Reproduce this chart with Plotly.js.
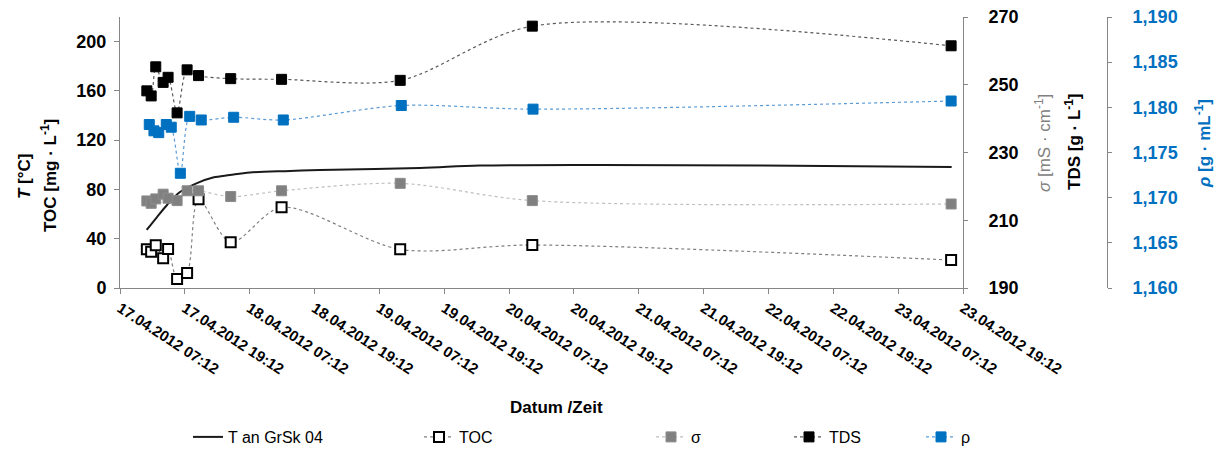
<!DOCTYPE html>
<html>
<head>
<meta charset="utf-8">
<script src="https://cdn.plot.ly/plotly-3.0.1.min.js"></script>
<style>
  html, body { margin: 0; padding: 0; background: #ffffff; }
  #chart { width: 1217px; height: 451px; }
</style>
</head>
<body>
<div id="chart"></div>
<script>
// Sampling times of the water samples (TOC, conductivity, TDS)
const sampleTimes = [
  '2012-04-17 12:10', '2012-04-17 12:58', '2012-04-17 13:49', '2012-04-17 15:11',
  '2012-04-17 16:06', '2012-04-17 17:46', '2012-04-17 19:37', '2012-04-17 21:44',
  '2012-04-18 03:41', '2012-04-18 13:06', '2012-04-19 11:03', '2012-04-20 11:30',
  '2012-04-23 17:00'
];
// Density measurements were taken a little after each sample
const densityTimes = [
  '2012-04-17 12:37', '2012-04-17 13:29', '2012-04-17 14:22', '2012-04-17 15:46',
  '2012-04-17 16:41', '2012-04-17 18:22', '2012-04-17 20:06', '2012-04-17 22:14',
  '2012-04-18 04:14', '2012-04-18 13:25', '2012-04-19 11:15', '2012-04-20 11:38',
  '2012-04-23 17:00'
];
// Temperature record at GrSk 04
const tempTimes = [
  '2012-04-17 12:08', '2012-04-17 14:03', '2012-04-17 15:54', '2012-04-17 18:18',
  '2012-04-17 21:27', '2012-04-18 00:25', '2012-04-18 03:33', '2012-04-18 07:16',
  '2012-04-18 14:40', '2012-04-18 20:12', '2012-04-19 14:42', '2012-04-20 01:48',
  '2012-04-21 00:00', '2012-04-22 05:36', '2012-04-23 17:06'
];
const temperature = [47.1, 57.6, 67.4, 77.9, 85.2, 89.7, 91.7, 93.8, 95.0, 95.8, 97.4, 99.4, 99.9, 99.4, 98.2];

const toc   = [31.4, 29.5, 34.7, 24.1, 31.7, 7.3, 12.2, 72.0, 37.1, 65.5, 31.4, 34.9, 22.7];           // mg/L
const sigma = [215.7, 215.0, 216.3, 217.7, 216.5, 215.8, 218.7, 218.7, 217.0, 218.7, 220.9, 215.8, 214.8]; // mS/cm
const tds   = [248.2, 246.7, 255.3, 250.7, 252.2, 241.7, 254.4, 252.7, 251.8, 251.6, 251.3, 267.3, 261.5]; // g/L
const rho   = [1.1781, 1.1774, 1.1772, 1.1781, 1.1778, 1.1727, 1.1790, 1.1786, 1.1789, 1.1786, 1.1802, 1.1798, 1.1807]; // g/mL

const xTickStart = '2012-04-17 07:12';
const xEnd = '2012-04-23 19:12';

const BLUE = '#0070C0';
const AXIS = '#868686';
const FONT = 'Liberation Sans, Arial, sans-serif';

const sq = (fill, edge, w) => ({ symbol: 'square', size: 10, color: fill, line: { color: edge, width: w } });
const dotted = (c) => ({ color: c, width: 1.2, dash: 'dot', shape: 'spline', smoothing: 0.85 });

const traces = [
  {
    name: 'T an GrSk 04', x: tempTimes, y: temperature, yaxis: 'y', legend: 'legend',
    mode: 'lines', line: { color: '#1a1a1a', width: 2, shape: 'spline' }
  },
  {
    name: 'TOC', x: sampleTimes, y: toc, yaxis: 'y', legend: 'legend2',
    mode: 'lines+markers', line: dotted('#7f7f7f'),
    marker: sq('#ffffff', '#000000', 2)
  },
  {
    name: 'σ', x: sampleTimes, y: sigma, yaxis: 'y2', legend: 'legend3',
    mode: 'lines+markers', line: dotted('#bfbfbf'),
    marker: sq('#808080', '#8c8c8c', 1)
  },
  {
    name: 'TDS', x: sampleTimes, y: tds, yaxis: 'y2', legend: 'legend4',
    mode: 'lines+markers', line: dotted('#595959'),
    marker: sq('#000000', '#000000', 1)
  },
  {
    name: 'ρ', x: densityTimes, y: rho, yaxis: 'y3', legend: 'legend5',
    mode: 'lines+markers', line: dotted('#5b9bd5'),
    marker: sq(BLUE, BLUE, 1)
  }
];

// Plot area spans 120..963 px horizontally, the density axis sits at the paper's right edge
const plotLeft = 120, plotRight = 963, paperRight = 1107;
const paperW = paperRight - plotLeft;
const plotTop = 17, plotBottom = 288, plotH = plotBottom - plotTop;
const px = v => (v - plotLeft) / paperW;
const py = v => (plotBottom - v) / plotH;

const legendBox = (x) => ({
  orientation: 'h', x: px(x), y: py(437), xanchor: 'left', yanchor: 'middle',
  bgcolor: 'rgba(0,0,0,0)', font: { family: FONT, size: 16, color: '#000000' },
  itemwidth: 30, tracegroupgap: 0
});

const boldTick = (c) => ({ family: FONT, size: 18, color: c, weight: 'bold' });

const layout = {
  width: 1217, height: 451,
  margin: { l: plotLeft, r: 1217 - paperRight, t: plotTop, b: 451 - plotBottom, pad: 0, autoexpand: false },
  paper_bgcolor: '#ffffff', plot_bgcolor: '#ffffff',
  font: { family: FONT, color: '#000000' },
  separators: ',.',
  showlegend: true,
  xaxis: {
    type: 'date', domain: [0, (plotRight - plotLeft) / paperW],
    range: [xTickStart, xEnd], tick0: xTickStart, dtick: 12 * 3600 * 1000,
    tickformat: '%d.%m.%Y %H:%M', tickangle: 33,
    ticks: 'outside', ticklen: 5, tickcolor: AXIS, tickwidth: 1,
    showline: true, linecolor: AXIS, linewidth: 1, showgrid: false, zeroline: false,
    tickfont: { family: FONT, size: 15, color: '#000000', weight: 'bold' }
  },
  yaxis: {
    range: [0, 220], tick0: 0, dtick: 40,
    ticks: 'outside', ticklen: 5, tickcolor: AXIS,
    showline: true, linecolor: AXIS, showgrid: false, zeroline: false,
    tickfont: boldTick('#000000'), ticklabelstandoff: 4
  },
  yaxis2: {
    overlaying: 'y', side: 'right', anchor: 'x',
    range: [190, 270], tick0: 190, dtick: 20,
    ticks: 'outside', ticklen: 4, tickcolor: AXIS,
    showline: true, linecolor: AXIS, showgrid: false, zeroline: false,
    tickfont: boldTick('#000000'), ticklabelstandoff: 17
  },
  yaxis3: {
    overlaying: 'y', side: 'right', anchor: 'free', position: 1,
    range: [1.16, 1.19], tick0: 1.16, dtick: 0.005, tickformat: '.3f',
    ticks: 'outside', ticklen: 4, tickcolor: AXIS,
    showline: true, linecolor: AXIS, showgrid: false, zeroline: false,
    tickfont: boldTick(BLUE), ticklabelstandoff: 17
  },
  legend: legendBox(188),
  legend2: legendBox(419),
  legend3: legendBox(651),
  legend4: legendBox(789),
  legend5: legendBox(921),
  annotations: [
    { text: '<i>T</i> [°C]', x: px(24), y: py(176), xref: 'paper', yref: 'paper',
      textangle: -90, showarrow: false, xanchor: 'center', yanchor: 'middle',
      font: { family: FONT, size: 17, color: '#000000', weight: 'bold' } },
    { text: 'TOC [mg · L<sup>-1</sup>]', x: px(49), y: py(176), xref: 'paper', yref: 'paper',
      textangle: -90, showarrow: false, xanchor: 'center', yanchor: 'middle',
      font: { family: FONT, size: 17, color: '#000000', weight: 'bold' } },
    { text: '<i>σ</i> [mS · cm<sup>-1</sup>]', x: px(1043), y: py(143), xref: 'paper', yref: 'paper',
      textangle: -90, showarrow: false, xanchor: 'center', yanchor: 'middle',
      font: { family: FONT, size: 17, color: '#808080' } },
    { text: 'TDS [g · L<sup>-1</sup>]', x: px(1073), y: py(142), xref: 'paper', yref: 'paper',
      textangle: -90, showarrow: false, xanchor: 'center', yanchor: 'middle',
      font: { family: FONT, size: 17, color: '#000000', weight: 'bold' } },
    { text: '<i>ρ</i> [g · mL<sup>-1</sup>]', x: px(1203), y: py(144), xref: 'paper', yref: 'paper',
      textangle: -90, showarrow: false, xanchor: 'center', yanchor: 'middle',
      font: { family: FONT, size: 17, color: BLUE, weight: 'bold' } },
    { text: 'Datum /Zeit', x: px(556), y: py(407), xref: 'paper', yref: 'paper',
      showarrow: false, xanchor: 'center', yanchor: 'middle',
      font: { family: FONT, size: 17, color: '#000000', weight: 'bold' } }
  ]
};

Plotly.newPlot('chart', traces, layout, { displayModeBar: false, staticPlot: true });
</script>
</body>
</html>
